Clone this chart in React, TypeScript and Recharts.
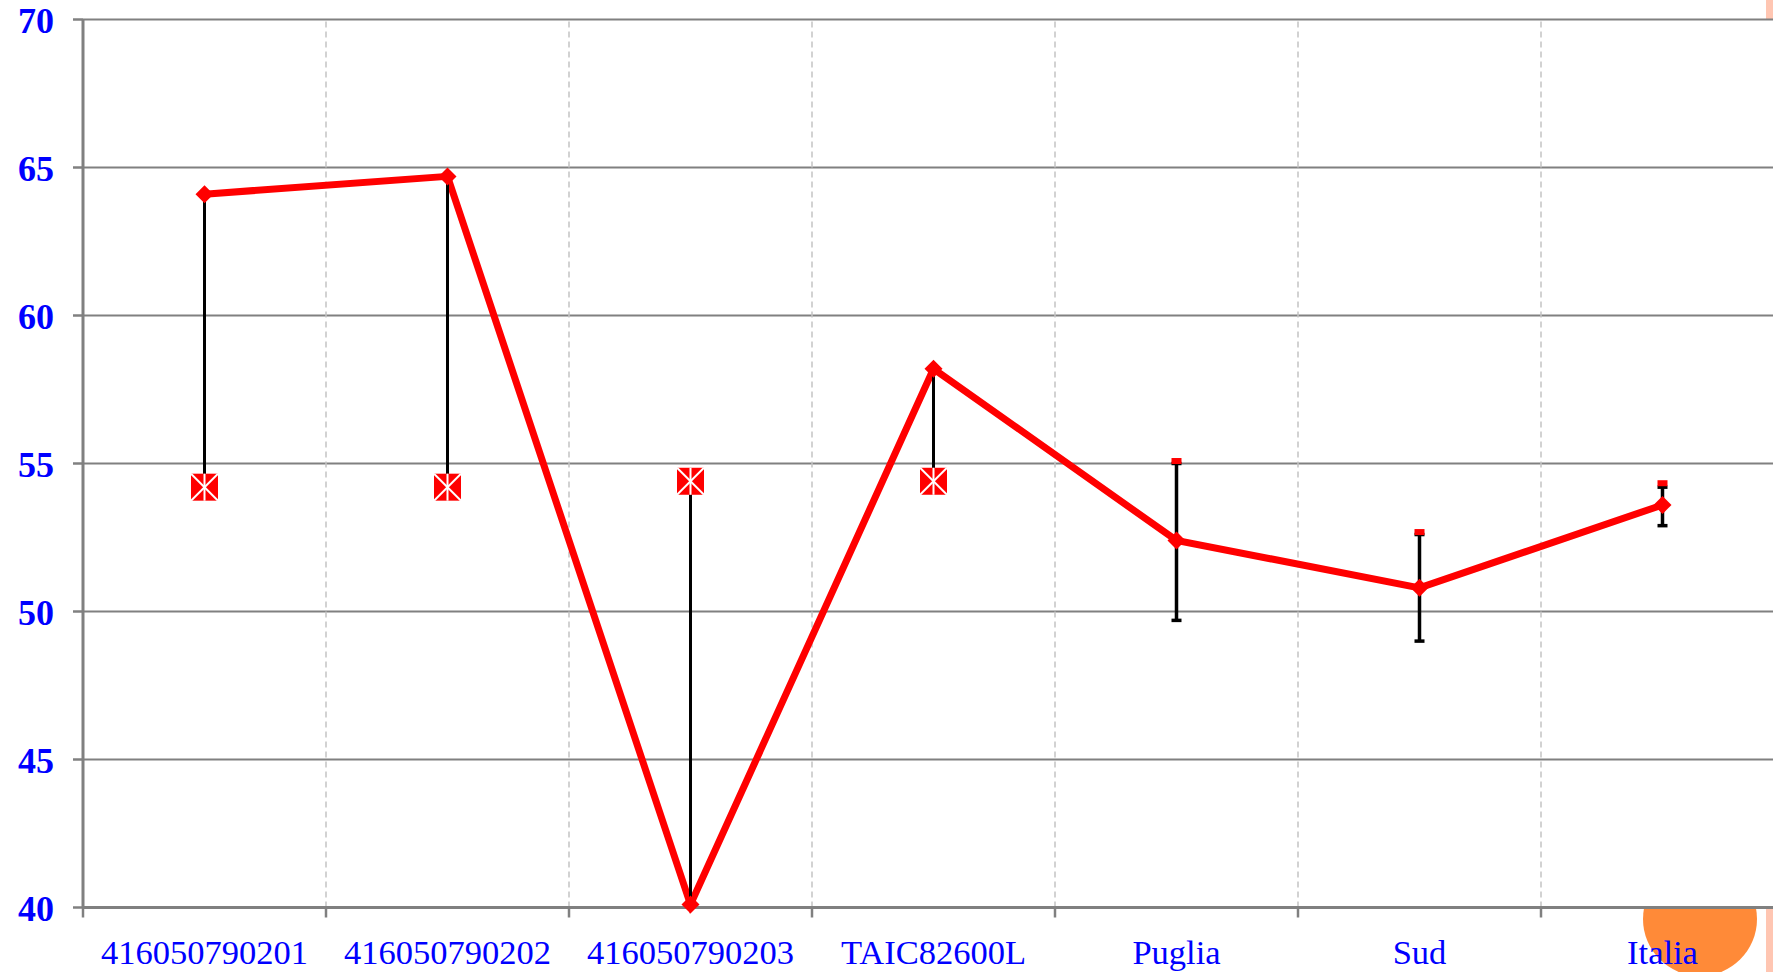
import { LineChart, Line, XAxis, YAxis, CartesianGrid, ReferenceLine, ErrorBar } from "recharts";

// categories and values
const categories = ["416050790201", "416050790202", "416050790203", "TAIC82600L", "Puglia", "Sud", "Italia"];
const scores = [64.1, 64.7, 40.1, 58.2, 52.4, 50.8, 53.6];
const referenceScores = [54.2, 54.2, 54.4, 54.4, 55.05, 52.65, 54.3];
// min / max band for the aggregate areas (null = no band)
const rangeLow = [null, null, null, null, 49.7, 49.0, 52.9];
const rangeHigh = [null, null, null, null, 55.0, 52.6, 54.2];
const yTicks = [40, 45, 50, 55, 60, 65, 70];

const BLUE = "#0000ff";
const AXIS_GRAY = "#808080";
const FONT = "'Liberation Serif', 'DejaVu Serif', serif";

const data = categories.map((name, i) => {
  const low = rangeLow[i];
  const high = rangeHigh[i];
  const score = scores[i];
  const ref = referenceScores[i];
  return {
    pos: i + 0.5,
    name,
    score,
    ref,
    gap: low == null ? [Math.max(0, score - ref), Math.max(0, ref - score)] : undefined,
    range: low != null && high != null ? [score - low, high - score] : undefined,
  };
});

const xTicks = categories.flatMap((_, i) => [i, i + 0.5]).concat(categories.length);
const boundaries = categories.slice(1).map((_, i) => i + 1);

function XTick(props: any) {
  const { x, y, payload } = props;
  const v = payload.value as number;
  if (Number.isInteger(v)) {
    return <line x1={x} x2={x} y1={y} y2={y + 10} stroke={AXIS_GRAY} strokeWidth={2.5} />;
  }
  return (
    <text x={x} y={y + 56} textAnchor="middle" fill={BLUE} fontFamily={FONT} fontSize={34.5}>
      {categories[Math.floor(v)]}
    </text>
  );
}

function YTick(props: any) {
  const { x, y, payload } = props;
  return (
    <g>
      <line x1={x - 10} x2={x} y1={y} y2={y} stroke={AXIS_GRAY} strokeWidth={2.5} />
      <text x={x - 29} y={y + 13} textAnchor="end" fill={BLUE} fontFamily={FONT} fontWeight="bold" fontSize={36}>
        {payload.value}
      </text>
    </g>
  );
}

function Diamond(props: any) {
  const { cx, cy } = props;
  if (cx == null || cy == null) return null;
  const r = 9;
  return <polygon points={`${cx},${cy - r} ${cx + r},${cy} ${cx},${cy + r} ${cx - r},${cy}`} fill="#ff0000" />;
}

function RefMarker(props: any) {
  const { cx, cy, index } = props;
  if (cx == null || cy == null) return null;
  if (rangeLow[index] != null) {
    return <rect x={cx - 5} y={cy - 4} width={10} height={6} fill="#ff0000" />;
  }
  const h = 13.5;
  return (
    <g>
      <rect x={cx - h} y={cy - h} width={2 * h} height={2 * h} fill="#ff0000" />
      <line x1={cx - h} y1={cy - h} x2={cx + h} y2={cy + h} stroke="#fff" strokeWidth={2} />
      <line x1={cx - h} y1={cy + h} x2={cx + h} y2={cy - h} stroke="#fff" strokeWidth={2} />
      <line x1={cx} y1={cy - h} x2={cx} y2={cy + h} stroke="#fff" strokeWidth={2} />
    </g>
  );
}

export default function App() {
  return (
    <div
      style={{
        position: "absolute",
        left: 0,
        top: 0,
        width: 1773,
        height: 972,
        overflow: "hidden",
        background: "#fff",
      }}
    >
      {/* slide decorations behind the chart */}
      <div style={{ position: "absolute", left: 1766, top: 0, width: 7, height: 972, background: "#ffc6b2" }} />
      <div
        style={{
          position: "absolute",
          left: 1700 - 57,
          top: 919 - 57,
          width: 114,
          height: 114,
          borderRadius: "50%",
          background: "#ff8a38",
        }}
      />
      <div style={{ position: "absolute", left: 0, top: 0 }}>
        <LineChart width={1784} height={972} data={data} margin={{ top: 19.5, right: 0, bottom: 0, left: 0 }}>
          <CartesianGrid vertical={false} stroke={AXIS_GRAY} strokeWidth={2} fill="#fff" fillOpacity={1} />
          {boundaries.map((b) => (
            <ReferenceLine key={b} x={b} stroke="#c4c4c4" strokeWidth={1.5} strokeDasharray="6 4" />
          ))}
          <XAxis
            dataKey="pos"
            type="number"
            domain={[0, categories.length]}
            ticks={xTicks}
            interval={0}
            height={64.5}
            tickSize={0}
            tickMargin={0}
            tickLine={false}
            axisLine={{ stroke: AXIS_GRAY, strokeWidth: 3 }}
            tick={<XTick />}
          />
          <YAxis
            type="number"
            domain={[40, 70]}
            ticks={yTicks}
            interval={0}
            width={83}
            tickSize={0}
            tickMargin={0}
            tickLine={false}
            axisLine={{ stroke: AXIS_GRAY, strokeWidth: 3 }}
            tick={<YTick />}
          />
          <Line
            dataKey="score"
            stroke="#ff0000"
            strokeWidth={7}
            dot={<Diamond />}
            activeDot={false}
            isAnimationActive={false}
          />
          <Line
            dataKey="ref"
            stroke="none"
            dot={<RefMarker />}
            activeDot={false}
            isAnimationActive={false}
          />
          <Line dataKey="score" stroke="none" dot={false} activeDot={false} isAnimationActive={false}>
            <ErrorBar dataKey="gap" direction="y" width={0} stroke="#000" strokeWidth={3} isAnimationActive={false} />
          </Line>
          <Line dataKey="score" stroke="none" dot={false} activeDot={false} isAnimationActive={false}>
            <ErrorBar dataKey="range" direction="y" width={5} stroke="#000" strokeWidth={3.5} isAnimationActive={false} />
          </Line>
        </LineChart>
      </div>
    </div>
  );
}
